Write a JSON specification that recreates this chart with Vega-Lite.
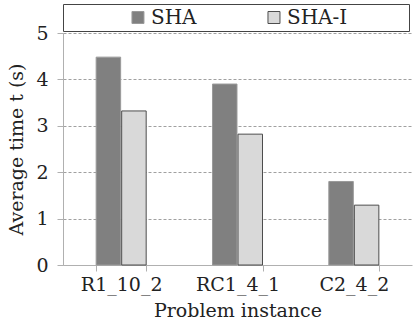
{
  "$schema": "https://vega.github.io/schema/vega-lite/v6.json",
  "padding": {"left": 7, "top": 3, "right": 5, "bottom": 5},
  "bounds": "flush",
  "spacing": 2,
  "config": {"font": "DejaVu Serif", "view": {"stroke": null}},
  "vconcat": [
    {
      "width": 346,
      "height": 27,
      "view": {"stroke": "#444444", "strokeWidth": 1},
      "data": {"values": [{"series": "SHA"}, {"series": "SHA-I"}]},
      "encoding": {
        "x": {"field": "series", "type": "nominal", "scale": {"type": "point", "padding": 0.772, "align": 0.357}, "axis": null}
      },
      "layer": [
        {
          "mark": {"type": "square", "size": 144, "strokeWidth": 1, "opacity": 1, "filled": true},
          "encoding": {
            "fill": {"field": "series", "type": "nominal", "scale": {"domain": ["SHA", "SHA-I"], "range": ["#808080", "#d9d9d9"]}, "legend": null},
            "stroke": {"field": "series", "type": "nominal", "scale": {"domain": ["SHA", "SHA-I"], "range": ["#9a9a9a", "#4d4d4d"]}, "legend": null}
          }
        },
        {
          "mark": {"type": "text", "align": "left", "baseline": "middle", "dx": 13, "fontSize": 20, "color": "#222222"},
          "encoding": {"text": {"field": "series", "type": "nominal"}}
        }
      ]
    },
    {
      "width": 349,
      "height": 232,
      "data": {
        "values": [
          {"instance": "R1_10_2", "series": "SHA", "time": 4.48},
          {"instance": "R1_10_2", "series": "SHA-I", "time": 3.32},
          {"instance": "RC1_4_1", "series": "SHA", "time": 3.9},
          {"instance": "RC1_4_1", "series": "SHA-I", "time": 2.82},
          {"instance": "C2_4_2", "series": "SHA", "time": 1.8},
          {"instance": "C2_4_2", "series": "SHA-I", "time": 1.29}
        ]
      },
      "mark": {"type": "bar", "strokeWidth": 1},
      "encoding": {
        "x": {
          "field": "instance", "type": "nominal", "sort": null,
          "scale": {"paddingInner": 0.57, "paddingOuter": 0.285},
          "axis": {
            "title": "Problem instance", "labelAngle": 0, "tickBand": "extent", "grid": false,
            "domainColor": "#b0b0b0", "tickColor": "#b0b0b0", "tickSize": 6,
            "labelFontSize": 19, "labelColor": "#222222", "labelPadding": 4,
            "titleFontSize": 19, "titleFontWeight": "normal", "titleColor": "#222222", "titlePadding": 7
          }
        },
        "xOffset": {"field": "series", "type": "nominal", "scale": {"paddingInner": 0.04, "paddingOuter": 0}},
        "y": {
          "field": "time", "type": "quantitative",
          "scale": {"domain": [0, 5], "nice": false},
          "axis": {
            "title": "Average time t (s)", "values": [0, 1, 2, 3, 4, 5], "grid": true,
            "gridDash": [3, 2], "gridColor": "#a0a0a0",
            "domainColor": "#b0b0b0", "tickColor": "#b0b0b0", "tickSize": 6,
            "labelFontSize": 19, "labelColor": "#222222", "labelPadding": 9,
            "titleFontSize": 19, "titleFontWeight": "normal", "titleColor": "#222222", "titlePadding": 9
          }
        },
        "fill": {"field": "series", "type": "nominal", "scale": {"domain": ["SHA", "SHA-I"], "range": ["#808080", "#d9d9d9"]}, "legend": null},
        "stroke": {"field": "series", "type": "nominal", "scale": {"domain": ["SHA", "SHA-I"], "range": ["#9a9a9a", "#4d4d4d"]}, "legend": null}
      }
    }
  ]
}
